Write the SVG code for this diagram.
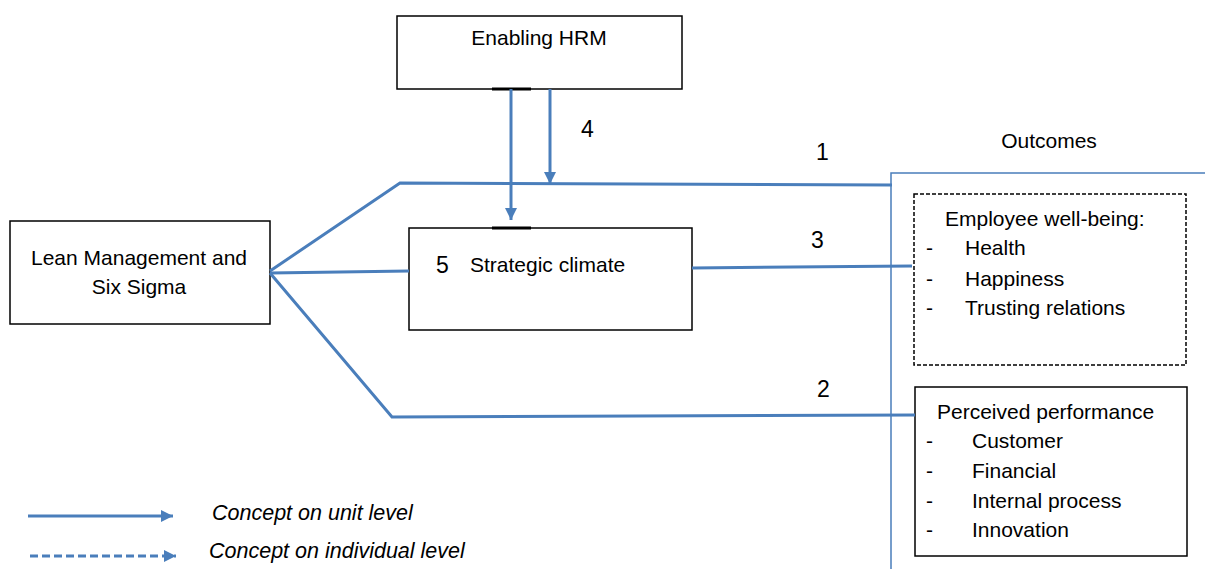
<svg xmlns="http://www.w3.org/2000/svg" width="1205" height="569" viewBox="0 0 1205 569">
<style>
.box{fill:#fff;stroke:#000;stroke-width:1.5}
.dbox{fill:#fff;stroke:#000;stroke-width:1.5;stroke-dasharray:4 2}
.t{font-family:"Liberation Sans",Arial,sans-serif;font-size:21px;fill:#000}
.n{font-family:"Liberation Sans",Arial,sans-serif;font-size:23px;fill:#000}
.i{font-family:"Liberation Sans",Arial,sans-serif;font-size:21.5px;font-style:italic;fill:#000}
.c{fill:none;stroke:#4a7ebb;stroke-width:3}
.thin{fill:none;stroke:#4a7ebb;stroke-width:1.5}
</style>
<defs>
<marker id="ah" viewBox="0 0 10 10" refX="10" refY="5" markerWidth="4.2" markerHeight="4" markerUnits="strokeWidth" orient="auto">
<path d="M0,0 L10,5 L0,10 Z" fill="#4a7ebb"/>
</marker>
</defs>
<g id="outcomes">
<path class="thin" d="M891,569 V173 H1205"/>
<text class="t" x="1049" y="148" text-anchor="middle">Outcomes</text>
</g>
<g id="enabling-hrm">
<rect class="box" x="397" y="16" width="285" height="73"/>
<text class="t" x="539" y="45" text-anchor="middle">Enabling HRM</text>
<line x1="492" y1="89" x2="531" y2="89" stroke="#000" stroke-width="3"/>
</g>
<g id="lean">
<rect class="box" x="10" y="221" width="260" height="103"/>
<text class="t" x="139" y="265" text-anchor="middle">Lean Management and</text>
<text class="t" x="139" y="294" text-anchor="middle">Six Sigma</text>
</g>
<g id="strategic-climate">
<rect class="box" x="409" y="228" width="283" height="102"/>
<line x1="492" y1="228" x2="531" y2="228" stroke="#000" stroke-width="3"/>
<text class="n" x="436" y="273">5</text>
<text class="t" x="470" y="272">Strategic climate</text>
</g>
<g id="employee-wellbeing">
<rect class="dbox" x="914" y="194" width="272" height="171"/>
<text class="t" x="945" y="226">Employee well-being:</text>
<text class="t" x="926" y="255">-</text>
<text class="t" x="965" y="255">Health</text>
<text class="t" x="926" y="286">-</text>
<text class="t" x="965" y="286">Happiness</text>
<text class="t" x="926" y="315">-</text>
<text class="t" x="965" y="315">Trusting relations</text>
</g>
<g id="perceived-performance">
<rect class="box" x="915" y="387" width="272" height="169"/>
<text class="t" x="937" y="419">Perceived performance</text>
<text class="t" x="926" y="448">-</text>
<text class="t" x="972" y="448">Customer</text>
<text class="t" x="926" y="478">-</text>
<text class="t" x="972" y="478">Financial</text>
<text class="t" x="926" y="508">-</text>
<text class="t" x="972" y="508">Internal process</text>
<text class="t" x="926" y="537">-</text>
<text class="t" x="972" y="537">Innovation</text>
</g>
<g id="connectors">
<path class="c" d="M270,271 L400,183 L892,185"/>
<path class="c" d="M270,273 L409,271"/>
<path class="c" d="M270,273 L392,417 L915,415"/>
<path class="c" d="M692,268 L912,266"/>
<path class="c" d="M511,89 V220" marker-end="url(#ah)"/>
<path class="c" d="M550,89 V184" marker-end="url(#ah)"/>
<text class="n" x="581" y="137">4</text>
<text class="n" x="816" y="160">1</text>
<text class="n" x="811" y="248">3</text>
<text class="n" x="817" y="397">2</text>
</g>
<g id="legend">
<path class="c" d="M28,516 H173" marker-end="url(#ah)"/>
<path class="c" d="M30,556 H176" stroke-dasharray="8 4" marker-end="url(#ah)"/>
<text class="i" x="212" y="520">Concept on unit level</text>
<text class="i" x="209" y="558">Concept on individual level</text>
</g>
</svg>
